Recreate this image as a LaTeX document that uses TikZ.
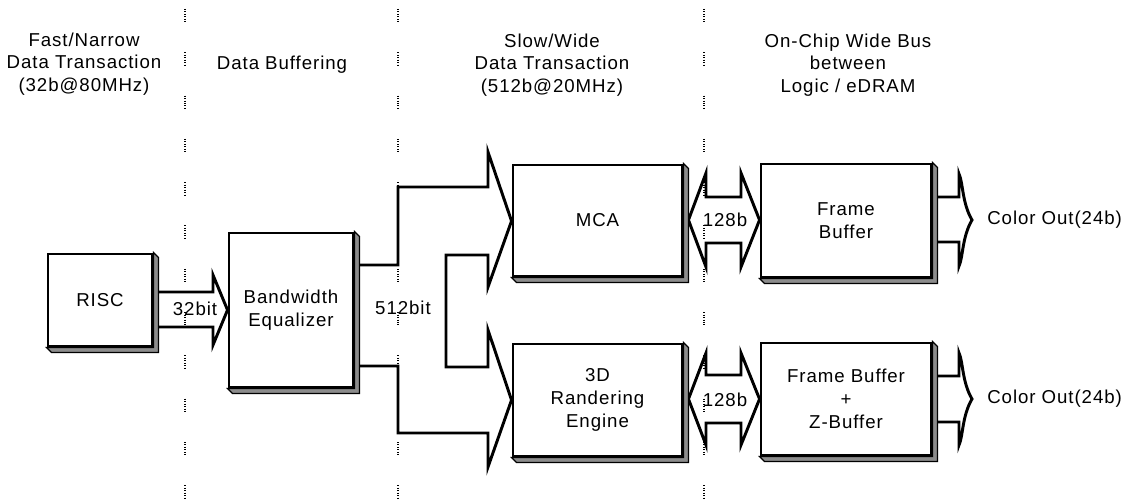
\documentclass[tikz,border=0pt]{standalone}
\usepackage{fontspec}
\setmainfont{Liberation Sans}[LetterSpace=5]
\usetikzlibrary{calc}
\begin{document}
\begin{tikzpicture}[x=0.75pt,y=-0.75pt,
  txt/.style={font=\fontsize{14}{17}\selectfont, align=center, inner sep=0},
  hdr/.style={font=\fontsize{14}{16.9}\selectfont, align=center, inner sep=0},
  blk/.style={draw, line width=2.2pt, fill=white, inner sep=0, font=\fontsize{14}{17.5}\selectfont, align=center},
  shad/.style={draw=black, line width=0.9pt, fill=black!45, line join=miter},
  bus/.style={draw, line width=2.2pt, line join=miter, miter limit=20},
  sep/.style={line width=0.9pt, dash pattern=on 0.75pt off 1.1pt},
]
\useasboundingbox (0,0) rectangle (1139,499);

% separators
\foreach \x in {185,398,704}{
  \foreach \k in {0,...,11}{
    \draw[sep] (\x,{9+43.3*\k}) -- ++(0,13);
  }
}

% blocks
\node[blk, minimum width=78pt, minimum height=69pt] (risc) at (100,300) {RISC};
\node[blk, minimum width=93pt, minimum height=115.5pt] (be) at (291,310) {Bandwidth\\Equalizer};
\node[blk, minimum width=126.75pt, minimum height=83.25pt] (mca) at (597.5,220.5) {MCA};
\node[blk, minimum width=126.75pt, minimum height=84pt] (rend) at (597.5,400) {3D\\Randering\\Engine};
\node[blk, minimum width=127.5pt, minimum height=84.75pt] (fb) at (846,220.5) {Frame\\Buffer};
\node[blk, minimum width=127.5pt, minimum height=84pt] (fbz) at (846,399) {Frame Buffer\\+\\Z-Buffer};

\coordinate (mcaS) at ([xshift=3.75pt]mca.east);
\coordinate (rendS) at ([xshift=3.75pt]rend.east);

% 32bit arrow
\draw[bus] (risc.east |- 0,292) -- (213,292) -- (213,275) -- (be.west |- 0,310)
  -- (213,345) -- (213,327) -- (risc.east |- 0,327);

% 512bit bus
\draw[bus] (be.east |- 0,265) -- (398,265) -- (398,187) -- (488,187) -- (488,152)
  -- (mca.west |- 0,221) -- (488,287) -- (488,255) -- (446,255) -- (446,367)
  -- (488,367) -- (488,330) -- (rend.west |- 0,400) -- (488,467) -- (488,433)
  -- (398,433) -- (398,366) -- (be.east |- 0,366);

% 128b double arrows
\draw[bus] (mcaS |- 0,220) -- (706,173) -- (706,197) -- (741,197) -- (741,173)
  -- (fb.west |- 0,220) -- (741,267) -- (741,243) -- (706,243) -- (706,267) -- cycle;
\draw[bus] (rendS |- 0,399) -- (706,353) -- (706,375) -- (741,375) -- (741,353)
  -- (fbz.west |- 0,399) -- (741,445) -- (741,423) -- (706,423) -- (706,445) -- cycle;

% output arrows
\coordinate (o1) at (972,220);
\coordinate (o2) at (972,399);
\draw[bus] (fb.east |- 0,197) -- (959,197) -- (959,174)
  .. controls (963,182) and (962,203) .. (o1)
  .. controls (962,237) and (963,258) .. (959,266) -- (959,242) -- (fb.east |- 0,242);
\draw[bus] (fbz.east |- 0,376) -- (959,376) -- (959,353)
  .. controls (963,361) and (962,382) .. (o2)
  .. controls (962,416) and (963,437) .. (959,445) -- (959,422) -- (fbz.east |- 0,422);

% redraw blocks on top, with shadows
\foreach \n in {risc,be,mca,rend,fb,fbz}{
  \draw[shad] (\n.north east) -- ++(5,5) -- ($(\n.south east)+(5,5)$)
    -- ($(\n.south west)+(5,5)$) -- (\n.south west) -- (\n.south east) -- cycle;
}

% labels
\node[txt] (l32) at (195,309) {32bit};
\node[txt] (l512) at (403,308) {512bit};
\node[txt] (l128a) at (725,220) {128b};
\node[txt] (l128b) at (725,400) {128b};
\node[txt, anchor=west] (co1) at (987,220) {Color Out(24b)};
\node[txt, anchor=west] (co2) at (987,399) {Color Out(24b)};

% headers
\node[hdr] (h1) at (84,64) {Fast/Narrow\\Data Transaction\\(32b@80MHz)};
\node[hdr] (h2) at (282,65) {Data Buffering};
\node[hdr] (h3) at (552,65) {Slow/Wide\\Data Transaction\\(512b@20MHz)};
\node[hdr] (h4) at (848,65) {On-Chip Wide Bus\\between\\Logic / eDRAM};
\end{tikzpicture}
\end{document}
